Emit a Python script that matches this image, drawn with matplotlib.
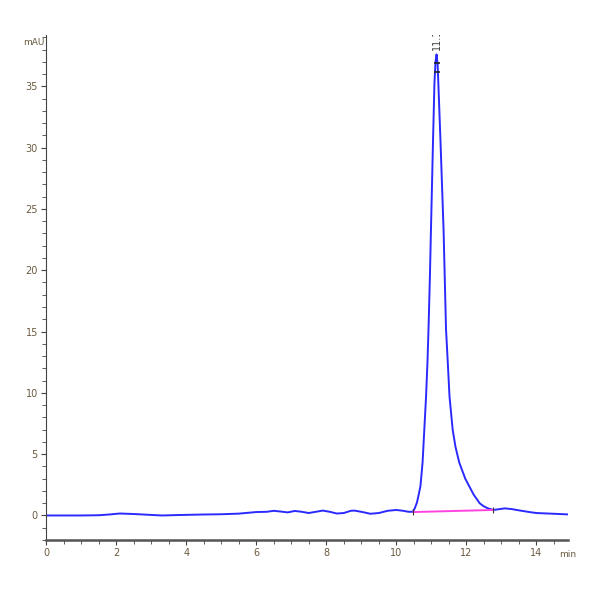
# HPLC chromatogram, single main peak at 11.170 min

import matplotlib.pyplot as plt
from matplotlib.ticker import MultipleLocator

# Data
time_min = [0.0, 0.5, 1.0, 1.5, 1.8, 2.1, 2.5, 2.9, 3.3, 3.7, 4.0, 4.5, 5.0, 5.5,
            6.0, 6.3, 6.5, 6.7, 6.9, 7.1, 7.3, 7.5, 7.7, 7.9, 8.1, 8.3, 8.5, 8.7,
            8.8, 9.0, 9.26, 9.5, 9.75, 10.0, 10.2, 10.35, 10.47, 10.53, 10.59,
            10.64, 10.69, 10.75, 10.8, 10.85, 10.89, 10.92, 10.96, 10.99, 11.05,
            11.09, 11.12, 11.15, 11.18, 11.2, 11.26, 11.35, 11.42, 11.47, 11.52,
            11.61, 11.69, 11.8, 11.97, 12.21, 12.38, 12.49, 12.62, 12.77,
            12.9, 13.1, 13.3, 13.54, 13.8, 14.0, 14.5, 14.88]
signal_mau = [0.0, 0.0, 0.0, 0.02, 0.08, 0.16, 0.12, 0.06, 0.0, 0.03, 0.05, 0.08,
              0.1, 0.15, 0.28, 0.3, 0.38, 0.32, 0.25, 0.37, 0.3, 0.2, 0.3, 0.4,
              0.3, 0.16, 0.2, 0.38, 0.4, 0.3, 0.14, 0.2, 0.38, 0.45, 0.38, 0.3,
              0.3, 0.6, 1.06, 1.7, 2.4, 4.3, 7.0, 9.7, 12.5, 15.2, 19.5, 23.3,
              30.7, 35.3, 37.0, 37.6, 36.8, 35.3, 30.7, 23.3, 15.2, 12.5, 9.7,
              7.0, 5.6, 4.3, 3.0, 1.7, 1.0, 0.76, 0.58, 0.45,
              0.5, 0.58, 0.52, 0.4, 0.28, 0.2, 0.14, 0.09]

# integration baseline
base_t = [10.49, 12.77]
base_v = [0.28, 0.45]

# peak apex marks
apex_t = 11.15
apex_marks = [36.9, 36.2]
peak_label = "11.170"

fig = plt.figure(figsize=(6, 6), dpi=100)
ax = fig.add_axes([0.077, 0.1, 0.87, 0.842])

ax.plot(time_min, signal_mau, color='#2a2aff', lw=1.4)
ax.plot(base_t, base_v, color='#ff44e0', lw=1.4)
ax.plot(base_t, base_v, ls='none', marker='|', ms=5, color='#333333', mew=0.8)
ax.plot([apex_t] * len(apex_marks), apex_marks, ls='none', marker='_', ms=5,
        color='#222222', mew=1.2)
ax.text(apex_t, 38.0, peak_label, rotation=90, ha='center', va='bottom',
        fontsize=7, color='#444444', clip_on=True)

ax.set_xlim(0, 14.91)
ax.set_ylim(-2, 39.2)

ax.xaxis.set_major_locator(MultipleLocator(2))
ax.xaxis.set_minor_locator(MultipleLocator(0.5))
ax.yaxis.set_major_locator(MultipleLocator(5))
ax.yaxis.set_minor_locator(MultipleLocator(1))

for s in ['top', 'right']:
    ax.spines[s].set_visible(False)
ax.spines['left'].set_color('#444444')
ax.spines['bottom'].set_color('#555555')
ax.spines['bottom'].set_linewidth(1.8)

ax.tick_params(which='both', colors='#444444', labelsize=7, labelcolor='#6a5a40', pad=2.5)
ax.tick_params(which='major', length=3.5)
ax.tick_params(which='minor', length=3)

fig.text(0.038, 0.925, 'mAU', fontsize=6.5, color='#6a5a40')
fig.text(0.932, 0.072, 'min', fontsize=6.5, color='#6a5a40')

plt.savefig("out.png")
